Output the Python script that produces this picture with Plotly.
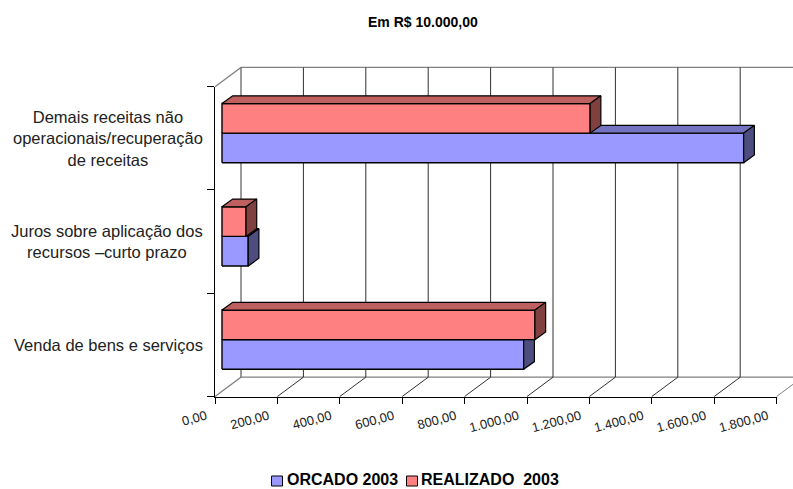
import plotly.graph_objects as go

categories = ["Venda de bens e serviços",
              "Juros sobre aplicação dos<br>recursos –curto prazo",
              "Demais receitas não<br>operacionais/recuperação<br>de receitas"]
orcado = [967, 84, 1672]
realizado = [1003, 77, 1180]
x_ticks = [0, 200, 400, 600, 800, 1000, 1200, 1400, 1600, 1800]
x_labels = ["0,00", "200,00", "400,00", "600,00", "800,00", "1.000,00",
            "1.200,00", "1.400,00", "1.600,00", "1.800,00"]
series_names = ["ORCADO 2003", "REALIZADO \u00a02003"]

W, H = 793, 489
L, R, T, B = 215.0, 776.6, 86.7, 396.5
PW, PH = R - L, B - T
XMAX, NCAT = 1800.0, 3
ux = PW / XMAX            # px per value unit
uy = PH / NCAT            # px per category unit
WALL_DX, WALL_DY = 26 / ux, 19.3 / uy
BAR_X0, BAR_Y0 = 7 / ux, 5.2 / uy
BAR_DX, BAR_DY = 10.7 / ux, 7.7 / uy
HALF = 29.6 / uy

fig = go.Figure()


def poly(xs, ys, fill=None, line="black", width=1.0):
    # drawn on the full-page overlay axes so the 3D walls may leave the front plot box
    fig.add_trace(go.Scatter(
        x=xs, y=ys, xaxis="x2", yaxis="y2", mode="lines", showlegend=False, hoverinfo="skip",
        fill="toself" if fill else None, fillcolor=fill,
        line=dict(color=line, width=width)))


# anchor trace for the visible axes
fig.add_trace(go.Scatter(x=[None], y=[None], mode="lines", showlegend=False, hoverinfo="skip"))

# walls and floor
poly([0, WALL_DX, WALL_DX + XMAX], [NCAT, NCAT + WALL_DY, NCAT + WALL_DY], line="#808080", width=1.2)
poly([0, WALL_DX, WALL_DX + XMAX], [0, WALL_DY, WALL_DY], line="#808080", width=1.2)
poly([WALL_DX, WALL_DX], [WALL_DY, NCAT + WALL_DY], line="#707070", width=1.4)
for v in x_ticks[1:]:
    poly([v + WALL_DX] * 2, [WALL_DY, NCAT + WALL_DY], line="#303030", width=1.0)
    poly([v, v + WALL_DX], [0, WALL_DY], line="#303030" if v < XMAX else "#808080", width=1.0)

# bars
styles = [dict(front="#9999ff", top="#7373bf", side="#4d4d80"),
          dict(front="#ff8080", top="#bf6060", side="#804040")]
for c in range(NCAT):
    mid = c + 0.5 + BAR_Y0
    for s, vals in enumerate([orcado, realizado]):
        st = styles[s]
        x0, x1 = BAR_X0, BAR_X0 + vals[c]
        y0, y1 = (mid - HALF, mid) if s == 0 else (mid, mid + HALF)
        poly([x0, x1, x1, x0, x0], [y0, y0, y1, y1, y0], fill=st["front"], width=1.4)
        poly([x0, x0 + BAR_DX, x1 + BAR_DX, x1, x0],
             [y1, y1 + BAR_DY, y1 + BAR_DY, y1, y1], fill=st["top"], width=1.2)
        poly([x1, x1 + BAR_DX, x1 + BAR_DX, x1, x1],
             [y0, y0 + BAR_DY, y1 + BAR_DY, y1, y0], fill=st["side"], width=1.2)

FONT = "Liberation Sans, Arial, sans-serif"
fig.update_layout(
    width=W, height=H, autosize=False,
    paper_bgcolor="white", plot_bgcolor="rgba(0,0,0,0)",
    margin=dict(l=0, r=0, t=0, b=0, autoexpand=False, pad=0),
    showlegend=False,
    font=dict(family=FONT, color="black"),
    xaxis=dict(domain=[L / W, R / W], range=[0, XMAX], tickvals=x_ticks, ticktext=x_labels, tickangle=-15,
               ticks="outside", ticklen=6, tickcolor="black", tickwidth=1, anchor="y",
               ticklabelshift=-9,
               showgrid=False, zeroline=False, showline=True, linecolor="black",
               linewidth=1.3, tickfont=dict(size=13, family=FONT, color="#222222")),
    yaxis=dict(domain=[(H - B) / H, (H - T) / H], range=[0, NCAT], tickvals=[0, 1, 2, 3],
               showticklabels=False, anchor="x",
               ticks="outside", ticklen=7, tickcolor="black", tickwidth=1,
               showgrid=False, zeroline=False, showline=True, linecolor="black",
               linewidth=1.3),
    xaxis2=dict(domain=[0, 1], range=[-L / ux, (W - L) / ux], visible=False, anchor="y2"),
    yaxis2=dict(domain=[0, 1], range=[-(H - B) / uy, B / uy], visible=False, anchor="x2"),
)


def px(x):
    return x / W


def py(y):
    return 1 - y / H


annotations = [dict(text="<b>Em R$ 10.000,00</b>", x=px(423), y=py(21.5), xref="paper", yref="paper",
                    showarrow=False, xanchor="center", yanchor="middle",
                    font=dict(size=14, family=FONT))]
for c, name in enumerate(categories):
    annotations.append(dict(text=name, x=px(205.5), y=c + 0.5 + BAR_Y0, xref="paper", yref="y",
                            showarrow=False, xanchor="right", yanchor="middle", align="center", yshift=-5,
                            font=dict(size=16.5, family=FONT, color="#222222")))
for name, tx in zip(series_names, [286.5, 420.5]):
    annotations.append(dict(text=f"<b>{name}</b>", x=px(tx), y=py(479.5), xref="paper", yref="paper",
                            showarrow=False, xanchor="left", yanchor="middle", xshift=-1, borderpad=0,
                            font=dict(size=16, family=FONT)))
fig.update_layout(annotations=annotations)

shapes = []
for (x0, x1), col in zip([(271.5, 282.5), (406.5, 417.5)], [styles[0]["front"], styles[1]["front"]]):
    shapes.append(dict(type="rect", xref="paper", yref="paper", x0=px(x0), x1=px(x1),
                       y0=py(486), y1=py(476), fillcolor=col, line=dict(color="black", width=1)))
fig.update_layout(shapes=shapes)

fig.write_html("out.html", config=dict(displayModeBar=False, staticPlot=True),
               post_script="document.body.style.margin='0';document.body.style.overflow='hidden';")
